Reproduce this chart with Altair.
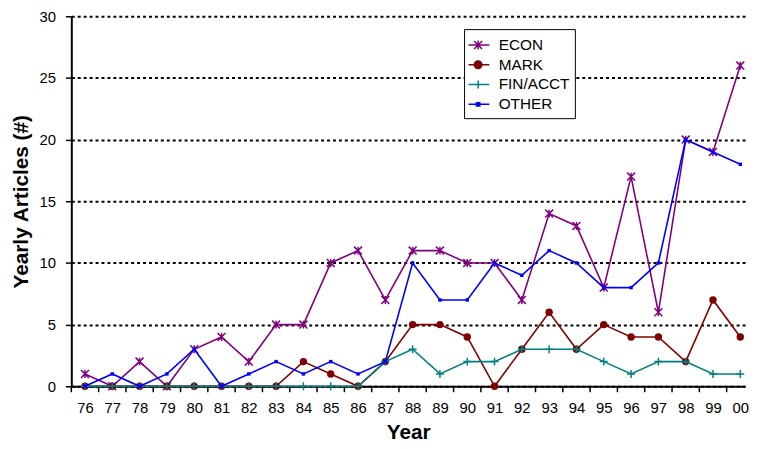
import altair as alt
import pandas as pd

# ---- data ----
year_labels = ["76", "77", "78", "79", "80", "81", "82", "83", "84", "85", "86", "87",
               "88", "89", "90", "91", "92", "93", "94", "95", "96", "97", "98", "99", "00"]
econ = [1, 0, 2, 0, 3, 4, 2, 5, 5, 10, 11, 7, 11, 11, 10, 10, 7, 14, 13, 8, 17, 6, 20, 19, 26]
mark = [0, 0, 0, 0, 0, 0, 0, 0, 2, 1, 0, 2, 5, 5, 4, 0, 3, 6, 3, 5, 4, 4, 2, 7, 4]
finacct = [0, 0, 0, 0, 0, 0, 0, 0, 0, 0, 0, 2, 3, 1, 2, 2, 3, 3, 3, 2, 1, 2, 2, 1, 1]
other = [0, 1, 0, 1, 3, 0, 1, 2, 1, 2, 1, 2, 10, 7, 7, 10, 9, 11, 10, 8, 8, 10, 20, 19, 18]

series_names = ["ECON", "MARK", "FIN/ACCT", "OTHER"]
series_values = [econ, mark, finacct, other]
series_colors = ["#800080", "#800000", "#008080", "#0000ff"]
y_ticks = [0, 5, 10, 15, 20, 25, 30]

PLOT_W = 681
STEP = 27.6

# ---- build tables ----
xs = [76 + i for i in range(len(year_labels))]
frames = []
for name, vals in zip(series_names, series_values):
    frames.append(pd.DataFrame({"x": xs, "v": vals, "series": name}))
bounds = pd.DataFrame({"x": [x - 0.5 for x in xs]})

label_expr = "[" + ",".join("'%s'" % l for l in year_labels) + "][datum.value - 76]"

X = alt.X("x:Q",
          scale=alt.Scale(domain=[75.5, 75.5 + PLOT_W / STEP], nice=False, zero=False),
          axis=alt.Axis(values=xs, labelExpr=label_expr, title="Year", ticks=False,
                        grid=False, labelFlush=False, labelOverlap=False,
                        labelPadding=15, titlePadding=6, domainColor="black",
                        domainWidth=2))
Y = alt.Y("v:Q",
          scale=alt.Scale(domain=[0, 30], nice=False),
          axis=alt.Axis(values=y_ticks, title="Yearly Articles (#)", grid=True,
                        gridColor="black", gridDash=[3, 3], gridWidth=2,
                        ticks=True, tickSize=6, tickWidth=1.5, tickColor="black",
                        labelPadding=10, titlePadding=8, domainColor="black",
                        domainWidth=2))

# marker shapes
asterisk = "M-1,-1L1,1M-1,1L1,-1M0,-1L0,1"
plus = "M-1,0L1,0M0,-1L0,1"

layers = []
# x-axis tick marks between categories
layers.append(alt.Chart(bounds).mark_rule(color="black", strokeWidth=1.5).encode(
    x=X, y=alt.value(374), y2=alt.value(380)))

marker_defs = [
    dict(shape=asterisk, size=64, filled=False),
    dict(shape="circle", size=56, filled=True),
    dict(shape=plus, size=64, filled=False),
    dict(shape="square", size=12, filled=True),
]
for df, col, md in zip(frames, series_colors, marker_defs):
    layers.append(alt.Chart(df).mark_line(color=col, strokeWidth=1.6).encode(x=X, y=Y))
    layers.append(alt.Chart(df).mark_point(color=col, strokeWidth=1.5, opacity=1, **md)
                  .encode(x=X, y=Y))

# legend carrier layer (no visible data)
legend_paths = [
    "M-1.15,0L0.95,0M-0.58,-0.4L0.22,0.4M-0.58,0.4L0.22,-0.4M-0.18,-0.45L-0.18,0.45",
    "M-1.15,0L0.95,0M-0.56,0A0.38,0.38 0 1,0 0.2,0A0.38,0.38 0 1,0 -0.56,0Z",
    "M-1.15,0L0.95,0M-0.18,-0.4L-0.18,0.4",
    "M-1.15,0L0.95,0M-0.35,-0.17L-0.01,-0.17L-0.01,0.17L-0.35,0.17Z",
]
leg = alt.Legend(title=None, orient="none", legendX=397, legendY=13,
                 strokeColor="black", fillColor="white", padding=5,
                 symbolSize=400, symbolStrokeWidth=1.5, rowPadding=0,
                 labelOffset=8, labelFontSize=15.5, labelFont="Liberation Sans",
                 labelColor="black")
legend_layer = alt.Chart(pd.concat(frames)).transform_filter("false").mark_point(
    filled=True, opacity=1).encode(
    x=X, y=Y,
    shape=alt.Shape("series:N", scale=alt.Scale(domain=series_names, range=legend_paths), legend=leg),
    fill=alt.Fill("series:N", scale=alt.Scale(domain=series_names, range=series_colors), legend=leg),
    stroke=alt.Stroke("series:N", scale=alt.Scale(domain=series_names, range=series_colors), legend=leg),
)
layers.append(legend_layer)

chart = alt.layer(*layers).properties(
    width=PLOT_W, height=374,
    autosize=alt.AutoSizeParams(type="none"),
    padding={"left": 64, "top": 6, "right": 4, "bottom": 56},
).configure_view(stroke=None).configure_axis(
    labelFont="Liberation Sans", labelFontSize=15, labelColor="black",
    titleFont="Liberation Sans", titleFontSize=21, titleFontWeight="bold",
    titleColor="black",
)

chart.save("out.html", embed_options={"renderer": "svg", "actions": False})
